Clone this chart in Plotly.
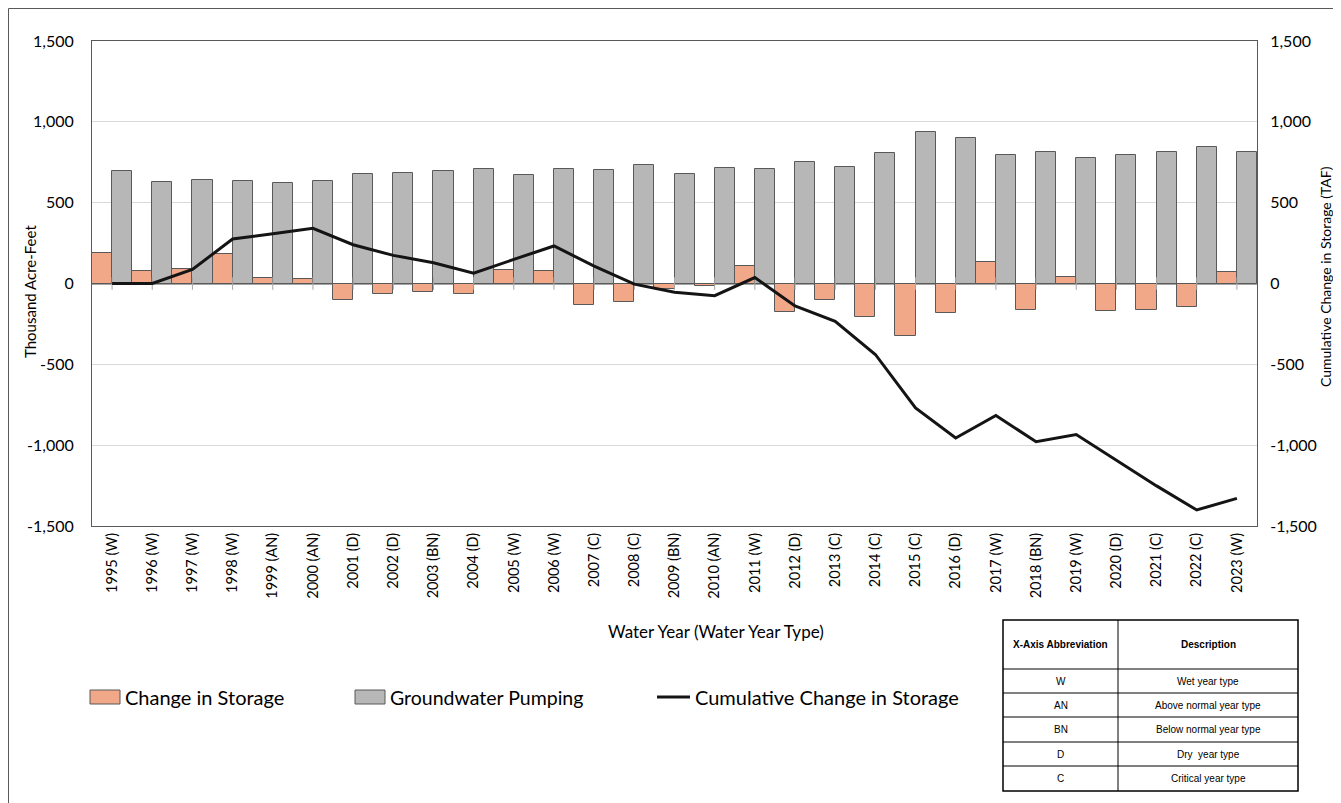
import plotly.graph_objects as go

# ---------------- data ----------------
years = ["1995 (W)", "1996 (W)", "1997 (W)", "1998 (W)", "1999 (AN)", "2000 (AN)",
         "2001 (D)", "2002 (D)", "2003 (BN)", "2004 (D)", "2005 (W)", "2006 (W)",
         "2007 (C)", "2008 (C)", "2009 (BN)", "2010 (AN)", "2011 (W)", "2012 (D)",
         "2013 (C)", "2014 (C)", "2015 (C)", "2016 (D)", "2017 (W)", "2018 (BN)",
         "2019 (W)", "2020 (D)", "2021 (C)", "2022 (C)", "2023 (W)"]

change_in_storage = [190, 75, 89, 182, 35, 25, -101, -68, -50, -68, 85, 79,
                     -132, -114, -35, -17, 110, -178, -99, -209, -327, -184,
                     132, -164, 39, -170, -164, -147, 70]

groundwater_pumping = [693, 625, 642, 637, 621, 637, 675, 681, 698, 708, 671, 708,
                       704, 735, 679, 716, 706, 753, 720, 809, 936, 898,
                       795, 816, 774, 793, 816, 847, 811]

cumulative_change = [0, 0, 87, 275, 308, 341, 240, 174, 128, 64, 149, 232,
                     108, -4, -54, -75, 37, -139, -234, -439, -770, -956,
                     -816, -979, -934, -1091, -1252, -1401, -1329]

y_tickvals = [-1500, -1000, -500, 0, 500, 1000, 1500]
y_ticktext = ["-1,500", "-1,000", "-500", "0", "500", "1,000", "1,500"]

table_abbrev = ["W", "AN", "BN", "D", "C"]
table_desc = ["Wet year type", "Above normal year type", "Below normal year type",
              "Dry  year type", "Critical year type"]

# ---------------- layout helpers ----------------
# page body has an 8px margin, so the figure is drawn 8px smaller and
# all pixel positions below are screen positions.
OFF = 8
W, H = 1341 - OFF, 803 - OFF
L, R, T, B = 92, 1257, 41, 526   # plot area, screen pixels


def px(x):
    return (x - L) / (R - L)


def py(y):
    return (B - y) / (B - T)


FONT = "Lato, Calibri, Carlito, sans-serif"
TFONT = "Liberation Sans, Arial, sans-serif"
ORANGE = "#F1A889"
GRAY = "#B7B7B7"
EDGE = "#595959"

fig = go.Figure()

fig.add_trace(go.Bar(
    x=years, y=change_in_storage, name="Change in Storage",
    marker=dict(color=ORANGE, line=dict(color=EDGE, width=1)),
    showlegend=False,
))
fig.add_trace(go.Bar(
    x=years, y=groundwater_pumping, name="Groundwater Pumping",
    marker=dict(color=GRAY, line=dict(color=EDGE, width=1)),
    showlegend=False,
))
# small category tick marks on the zero axis line
fig.add_trace(go.Scatter(
    x=years, y=[0] * len(years), mode="markers", hoverinfo="skip",
    marker=dict(symbol="line-ns", size=9, line=dict(color="#A6A6A6", width=1)),
    showlegend=False,
))
fig.add_trace(go.Scatter(
    x=years, y=cumulative_change, name="Cumulative Change in Storage",
    mode="lines", line=dict(color="#141414", width=3),
    yaxis="y2", showlegend=False,
))

shapes = []
annotations = []


def ann(text, x, y, size, family=FONT, angle=0, xanchor="center"):
    annotations.append(dict(text=text, xref="paper", yref="paper",
                            x=px(x), y=py(y), textangle=angle, showarrow=False,
                            xanchor=xanchor, yanchor="middle",
                            font=dict(family=family, size=size, color="#000")))


# outer chart border
shapes.append(dict(type="rect", xref="paper", yref="paper",
                   x0=px(8.5), x1=px(1339), y0=py(830), y1=py(8.5),
                   line=dict(color=EDGE, width=1), fillcolor="rgba(0,0,0,0)",
                   layer="below"))

# axis titles
ann("Thousand Acre-Feet", 30, 292, 15, angle=-90)
ann("Cumulative Change in Storage (TAF)", 1325, 277, 14, angle=-90)
ann("Water Year (Water Year Type)", 716, 631, 17)

# legend (manual)
leg_y = 697
shapes.append(dict(type="rect", xref="paper", yref="paper",
                   x0=px(90), x1=px(120), y0=py(704), y1=py(690),
                   fillcolor=ORANGE, line=dict(color=EDGE, width=1)))
shapes.append(dict(type="rect", xref="paper", yref="paper",
                   x0=px(355), x1=px(385), y0=py(704), y1=py(690),
                   fillcolor=GRAY, line=dict(color=EDGE, width=1)))
shapes.append(dict(type="line", xref="paper", yref="paper",
                   x0=px(657), x1=px(690), y0=py(leg_y), y1=py(leg_y),
                   line=dict(color="#141414", width=3)))
for xx, txt, sz in [(123, "Change in Storage", 20), (388, "Groundwater Pumping", 19.5),
                    (693, "Cumulative Change in Storage", 20)]:
    ann(txt, xx, leg_y, sz, xanchor="left")

# abbreviation table
tx0, tx1, tx2 = 1003, 1118, 1298
row_edges = [620, 669, 693, 717, 742, 766, 791]
shapes.append(dict(type="rect", xref="paper", yref="paper",
                   x0=px(tx0), x1=px(tx2), y0=py(row_edges[-1]), y1=py(row_edges[0]),
                   line=dict(color="#000", width=1.5), fillcolor="white"))
shapes.append(dict(type="line", xref="paper", yref="paper",
                   x0=px(tx1), x1=px(tx1), y0=py(row_edges[-1]), y1=py(row_edges[0]),
                   line=dict(color="#000", width=1)))
for ry in row_edges[1:-1]:
    shapes.append(dict(type="line", xref="paper", yref="paper",
                       x0=px(tx0), x1=px(tx2), y0=py(ry), y1=py(ry),
                       line=dict(color="#000", width=1)))

hdr_y = (row_edges[0] + row_edges[1]) / 2
ann("<b>X-Axis Abbreviation</b>", (tx0 + tx1) / 2, hdr_y, 10, family=TFONT)
ann("<b>Description</b>", (tx1 + tx2) / 2, hdr_y, 10, family=TFONT)
for i, (ab, de) in enumerate(zip(table_abbrev, table_desc)):
    cy = (row_edges[i + 1] + row_edges[i + 2]) / 2
    ann(ab, (tx0 + tx1) / 2, cy, 10, family=TFONT)
    ann(de, (tx1 + tx2) / 2, cy, 10, family=TFONT)

fig.update_layout(
    width=W, height=H,
    margin=dict(l=L - OFF, r=W - (R - OFF), t=T - OFF, b=H - (B - OFF), pad=0),
    paper_bgcolor="white", plot_bgcolor="white",
    barmode="group", bargap=0, bargroupgap=0,
    font=dict(family=FONT, size=15, color="#000"),
    showlegend=False,
    xaxis=dict(
        type="category", tickangle=-90, showgrid=False,
        showline=True, linecolor=EDGE, linewidth=1, mirror=True,
        ticks="", tickfont=dict(family=FONT, size=14.5, color="#000"),
        range=[-0.5, len(years) - 0.5], ticklabelstandoff=0,
    ),
    yaxis=dict(
        range=[-1500, 1500], tickvals=y_tickvals, ticktext=y_ticktext,
        showgrid=True, gridcolor="#D9D9D9", gridwidth=1,
        zeroline=True, zerolinecolor="#A6A6A6", zerolinewidth=1.5,
        showline=True, linecolor=EDGE, linewidth=1,
        ticks="", ticklabelstandoff=14,
        tickfont=dict(family=FONT, size=16, color="#000"),
    ),
    yaxis2=dict(
        range=[-1500, 1500], tickvals=y_tickvals, ticktext=y_ticktext,
        overlaying="y", side="right", showgrid=False, zeroline=False,
        showline=True, linecolor=EDGE, linewidth=1,
        ticks="", ticklabelstandoff=9,
        tickfont=dict(family=FONT, size=16, color="#000"),
    ),
    shapes=shapes,
    annotations=annotations,
)

fig.write_html("out.html")
